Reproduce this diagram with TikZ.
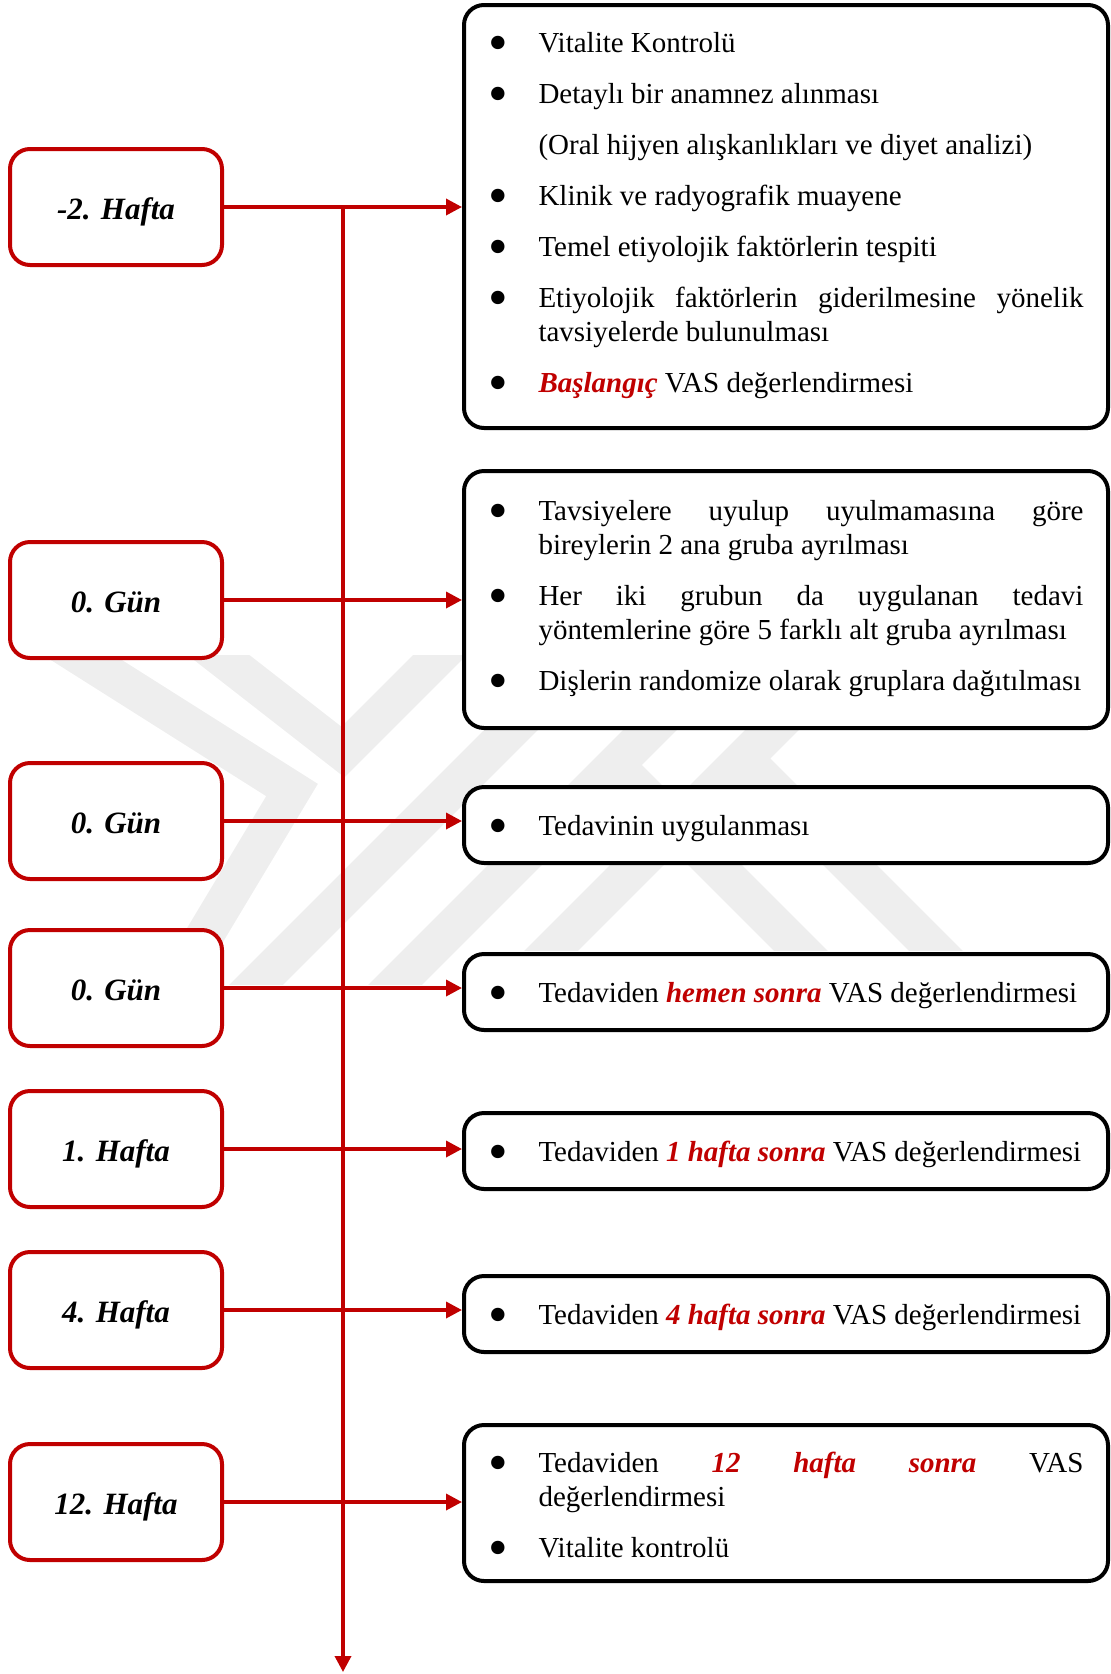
\documentclass[tikz,border=0pt]{standalone}
\usepackage{fontspec}
\setmainfont{Liberation Serif}
\usetikzlibrary{arrows.meta}
\definecolor{kirmizi}{HTML}{C00000}
\definecolor{filigran}{HTML}{EEEEEE}
\newcommand{\vurgu}[1]{\textcolor{kirmizi}{\textbf{\textit{#1}}}}
\newcommand{\imge}{\raisebox{-9pt}{\fontsize{56}{56}\selectfont\textbullet}}
\newcommand{\madde}[1]{\hangindent=50pt\hangafter=0\noindent\llap{\makebox[50pt][l]{\imge}}#1\par}
\newcommand{\ekmadde}[1]{\hangindent=50pt\hangafter=0\noindent #1\par}
\tikzset{
  zaman/.style={draw=kirmizi, line width=4pt, rounded corners=20pt, fill=white,
    minimum width=212pt, minimum height=116pt, inner sep=0pt,
    text height=24pt, text depth=0pt,
    font=\fontsize{31}{36}\selectfont\bfseries\itshape},
  islem/.style={draw=black, line width=4pt, rounded corners=20pt, fill=white,
    minimum width=644pt, text width=595pt, inner sep=0pt, align=justify,
    font=\fontsize{29}{34}\selectfont, execute at begin node={\setlength{\parskip}{17pt}}},
  tek/.style={islem, minimum height=76pt, text depth=-11pt},
  ok/.style={draw=kirmizi, line width=3.5pt, -{Triangle[length=16pt,width=16pt]}},
  iz/.style={draw=filigran, line width=38pt}
}
\begin{document}
\begin{tikzpicture}[x=1pt,y=-1pt]
\useasboundingbox (0,0) rectangle (1111,1674);
% filigran
\begin{scope}
\clip (0,655) rectangle (1111,984);
\draw[iz] (240,1001) -- (580,661);
\draw[iz] (380,1000) -- (720,660);
\end{scope}
\begin{scope}
\clip (0,655) rectangle (1111,950);
\draw[iz] (50,637) -- (292,790) -- (175,985);
\draw[iz] (189,632) -- (343,752) -- (500,595);
\draw[iz] (530,972) -- (842,660);
\draw[iz] (615,765) -- (820,970);
\draw[iz] (743,758) -- (955,970);
\end{scope}
% eksen
\coordinate (eksen) at (343,207);
\coordinate (eksenson) at (343,1672);
\draw[ok] (eksen) -- (eksenson);
% zaman kutulari
\node[zaman] (z1) at (116,207) {-2. Hafta};
\node[zaman] (z2) at (116,600) {0. Gün};
\node[zaman] (z3) at (116,821) {0. Gün};
\node[zaman] (z4) at (116,988) {0. Gün};
\node[zaman] (z5) at (116,1149) {1. Hafta};
\node[zaman] (z6) at (116,1310) {4. Hafta};
\node[zaman] (z7) at (116,1502) {12. Hafta};
% islem kutulari
\node[islem, minimum height=423pt] (i1) at (786,216.5) {
\madde{Vitalite Kontrolü}
\madde{Detaylı bir anamnez alınması}
\ekmadde{(Oral hijyen alışkanlıkları ve diyet analizi)}
\madde{Klinik ve radyografik muayene}
\madde{Temel etiyolojik faktörlerin tespiti}
\madde{Etiyolojik faktörlerin giderilmesine yönelik\linebreak tavsiyelerde bulunulması}
\madde{\vurgu{Başlangıç} VAS değerlendirmesi}};
\node[islem, minimum height=257pt] (i2) at (786,599.5) {
\madde{Tavsiyelere uyulup uyulmamasına göre\linebreak bireylerin 2 ana gruba ayrılması}
\madde{Her iki grubun da uygulanan tedavi\linebreak yöntemlerine göre 5 farklı alt gruba ayrılması}
\madde{Dişlerin randomize olarak gruplara dağıtılması}};
\node[tek] (i3) at (786,825) {
\madde{Tedavinin uygulanması}};
\node[tek] (i4) at (786,992) {
\madde{Tedaviden \vurgu{hemen sonra} VAS değerlendirmesi}};
\node[tek] (i5) at (786,1151) {
\madde{Tedaviden \vurgu{1 hafta sonra} VAS değerlendirmesi}};
\node[tek] (i6) at (786,1314) {
\madde{Tedaviden \vurgu{4 hafta sonra} VAS değerlendirmesi}};
\node[islem, minimum height=156pt, text depth=82pt] (i7) at (786,1503) {
\madde{Tedaviden \vurgu{12 hafta sonra} VAS\linebreak değerlendirmesi}
\madde{Vitalite kontrolü}};
% oklar
\foreach \n in {1,...,7}
  \draw[ok] (z\n.east) -- (z\n.east -| i\n.west);
\end{tikzpicture}
\end{document}
